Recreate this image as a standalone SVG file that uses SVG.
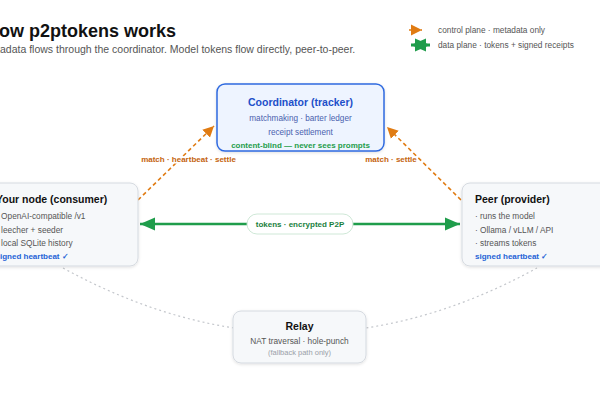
<svg xmlns="http://www.w3.org/2000/svg" width="600" height="400" viewBox="0 0 600 400">
<style>
text{font-family:"Liberation Sans",Arial,sans-serif}
.h1{font-size:18px;font-weight:bold;fill:#111}
.sub{font-size:10.5px;fill:#555}
.leg{font-size:8.3px;fill:#555}
.box{fill:#f6f8fa;stroke:#d5dae0;stroke-width:1}
.ttl{font-size:10.5px;font-weight:bold;fill:#111}
.item{font-size:8.3px;fill:#555}
.hb{font-size:8px;font-weight:bold;fill:#2563d6}
.ctl{stroke:#e07b12;stroke-width:1.6;stroke-dasharray:4 3;fill:none}
.olbl{font-size:8px;font-weight:bold;fill:#c4630d;stroke:#fff;stroke-width:3;paint-order:stroke;stroke-linejoin:round}
.data{stroke:#1f9d4b;stroke-width:2.5;fill:none}
.relay{stroke:#c4c7cc;stroke-width:1.2;stroke-dasharray:2 3;fill:none}
</style>
<defs>
<filter id="sh" x="-10%" y="-10%" width="120%" height="130%">
<feDropShadow dx="0" dy="1" stdDeviation="1.5" flood-color="#000" flood-opacity="0.12"/>
</filter>
<marker id="oa" markerUnits="userSpaceOnUse" markerWidth="12" markerHeight="12" refX="11" refY="6" orient="auto">
<path d="M0,0.5 L11,6 L0,11.5 z" fill="#e07b12"/>
</marker>
<marker id="ga" markerUnits="userSpaceOnUse" markerWidth="16" markerHeight="14" refX="15" refY="7" orient="auto-start-reverse">
<path d="M0,0.5 L15,7 L0,13.5 z" fill="#1f9d4b"/>
</marker>
</defs>

<g id="header">
<text class="h1" x="-14" y="37">How p2ptokens works</text>
<text class="sub" x="-17.5" y="53">Metadata flows through the coordinator. Model tokens flow directly, peer-to-peer.</text>
</g>

<g id="legend">
<line class="ctl" x1="409" y1="30" x2="422" y2="30" marker-end="url(#oa)" style="stroke-dasharray:3 3"/>
<text class="leg" x="438" y="33">control plane · metadata only</text>
<line class="data" x1="411" y1="45" x2="430" y2="45" marker-start="url(#ga)" marker-end="url(#ga)" style="stroke-width:3"/>
<text class="leg" x="438" y="48">data plane · tokens + signed receipts</text>
</g>

<g id="connectors">
<path class="relay" d="M63,268 Q300,398 537,268"/>
<line class="ctl" x1="138" y1="200" x2="214" y2="126" marker-end="url(#oa)"/>
<line class="ctl" x1="461" y1="200" x2="387" y2="127" marker-end="url(#oa)"/>
<text class="olbl" x="188.5" y="162" text-anchor="middle">match · heartbeat · settle</text>
<text class="olbl" x="391" y="162" text-anchor="middle">match · settle</text>
<line class="data" x1="140" y1="224" x2="460" y2="224" marker-start="url(#ga)" marker-end="url(#ga)"/>
<rect x="247" y="214" width="106" height="20" rx="10" fill="#fff" stroke="#cfe8d7"/>
<text x="300" y="227" text-anchor="middle" style="font-size:8px;font-weight:bold;fill:#1a7f3e">tokens · encrypted P2P</text>
</g>

<g id="coordinator">
<rect x="217" y="84" width="167" height="67" rx="8" fill="#eef4ff" stroke="#2f6ae0" stroke-width="1.5" filter="url(#sh)"/>
<text x="300.5" y="106" text-anchor="middle" style="font-size:10.5px;font-weight:bold;fill:#1d4fc9">Coordinator (tracker)</text>
<text x="300.5" y="121" text-anchor="middle" style="font-size:8.2px;fill:#4a5fae">matchmaking · barter ledger</text>
<text x="300.5" y="134.5" text-anchor="middle" style="font-size:8.2px;fill:#4a5fae">receipt settlement</text>
<text x="300.5" y="148" text-anchor="middle" style="font-size:8px;font-weight:bold;fill:#1f9d4b">content-blind — never sees prompts</text>
</g>

<g id="consumer">
<rect class="box" x="-18" y="183" width="156" height="83" rx="8" filter="url(#sh)"/>
<text class="ttl" x="-4" y="203">Your node (consumer)</text>
<text class="item" x="-4" y="219">· OpenAI-compatible /v1</text>
<text class="item" x="-4" y="233">· leecher + seeder</text>
<text class="item" x="-4" y="246">· local SQLite history</text>
<text class="hb" x="-4.5" y="259">signed heartbeat ✓</text>
</g>

<g id="provider">
<rect class="box" x="462" y="183" width="156" height="83" rx="8" filter="url(#sh)"/>
<text class="ttl" x="475" y="203">Peer (provider)</text>
<text class="item" x="475" y="219">· runs the model</text>
<text class="item" x="475" y="233">· Ollama / vLLM / API</text>
<text class="item" x="475" y="246">· streams tokens</text>
<text class="hb" x="475" y="259">signed heartbeat ✓</text>
</g>

<g id="relay">
<rect class="box" x="233" y="311" width="133" height="52" rx="8" filter="url(#sh)"/>
<text x="299.5" y="330" text-anchor="middle" style="font-size:10.5px;font-weight:bold;fill:#111">Relay</text>
<text x="299.5" y="344" text-anchor="middle" style="font-size:8.3px;fill:#555">NAT traversal · hole-punch</text>
<text x="299.5" y="355" text-anchor="middle" style="font-size:7.5px;fill:#9aa0a8">(fallback path only)</text>
</g>
</svg>
